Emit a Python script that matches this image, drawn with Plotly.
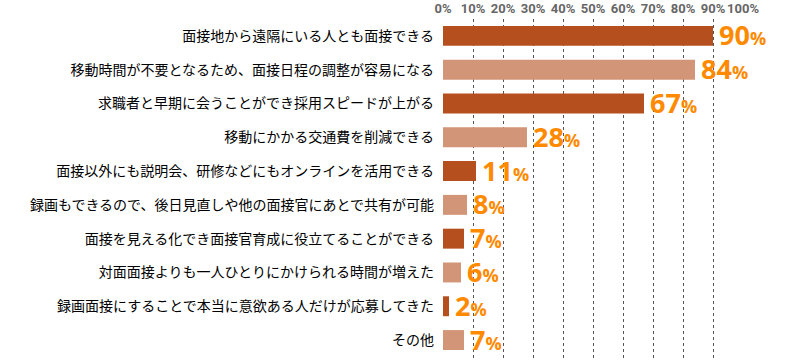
import plotly.graph_objects as go

categories = [
    "面接地から遠隔にいる人とも面接できる",
    "移動時間が不要となるため、面接日程の調整が容易になる",
    "求職者と早期に会うことができ採用スピードが上がる",
    "移動にかかる交通費を削減できる",
    "面接以外にも説明会、研修などにもオンラインを活用できる",
    "録画もできるので、後日見直しや他の面接官にあとで共有が可能",
    "面接を見える化でき面接官育成に役立てることができる",
    "対面面接よりも一人ひとりにかけられる時間が増えた",
    "録画面接にすることで本当に意欲ある人だけが応募してきた",
    "その他",
]
values = [90, 84, 67, 28, 11, 8, 7, 6, 2, 7]
tick_values = [0, 10, 20, 30, 40, 50, 60, 70, 80, 90, 100]
tick_labels = ["0%", "10%", "20%", "30%", "40%", "50%", "60%", "70%", "80%", "90%", "100%"]

dark = "#B64F1E"
light = "#D39577"
colors = [dark if i % 2 == 0 else light for i in range(len(values))]

fig = go.Figure(go.Bar(
    x=values, y=categories, orientation="h",
    marker=dict(color=colors, line=dict(width=0)),
    width=0.59, hoverinfo="skip",
))

for c, v in zip(categories, values):
    fig.add_annotation(
        x=v, y=c, xref="x", yref="y",
        text=f"<b>{v}</b><span style='font-size:18px'><b>%</b></span>",
        showarrow=False, xanchor="left", yanchor="middle", xshift=4, yshift=1,
        font=dict(family="Open Sans", size=27, color="#FF8A00"),
    )

fig.update_layout(
    width=800, height=361,
    margin=dict(l=443, r=57, t=19, b=0),
    paper_bgcolor="white", plot_bgcolor="white",
    showlegend=False,
    bargap=0.41,
)
fig.update_xaxes(
    side="top", range=[0, 100], tickvals=tick_values, ticktext=tick_labels,
    tickangle=0, automargin=False,
    showgrid=True, gridcolor="#555555", griddash="dot", gridwidth=1,
    zeroline=False, showline=False, ticks="", ticklabelstandoff=2,
    tickfont=dict(family="Roboto", size=13, color="#666666", weight="bold"),
    fixedrange=True,
)
fig.update_yaxes(
    categoryorder="array", categoryarray=categories, automargin=False,
    range=[9.62, -0.5], showgrid=False, zeroline=False, showline=False,
    ticks="", ticklabelstandoff=8,
    tickfont=dict(family="Noto Sans CJK JP", size=14, color="#000000"),
    fixedrange=True,
)

fig.write_html("out.html", config={"displayModeBar": False},
               post_script="document.body.style.margin='0';")
